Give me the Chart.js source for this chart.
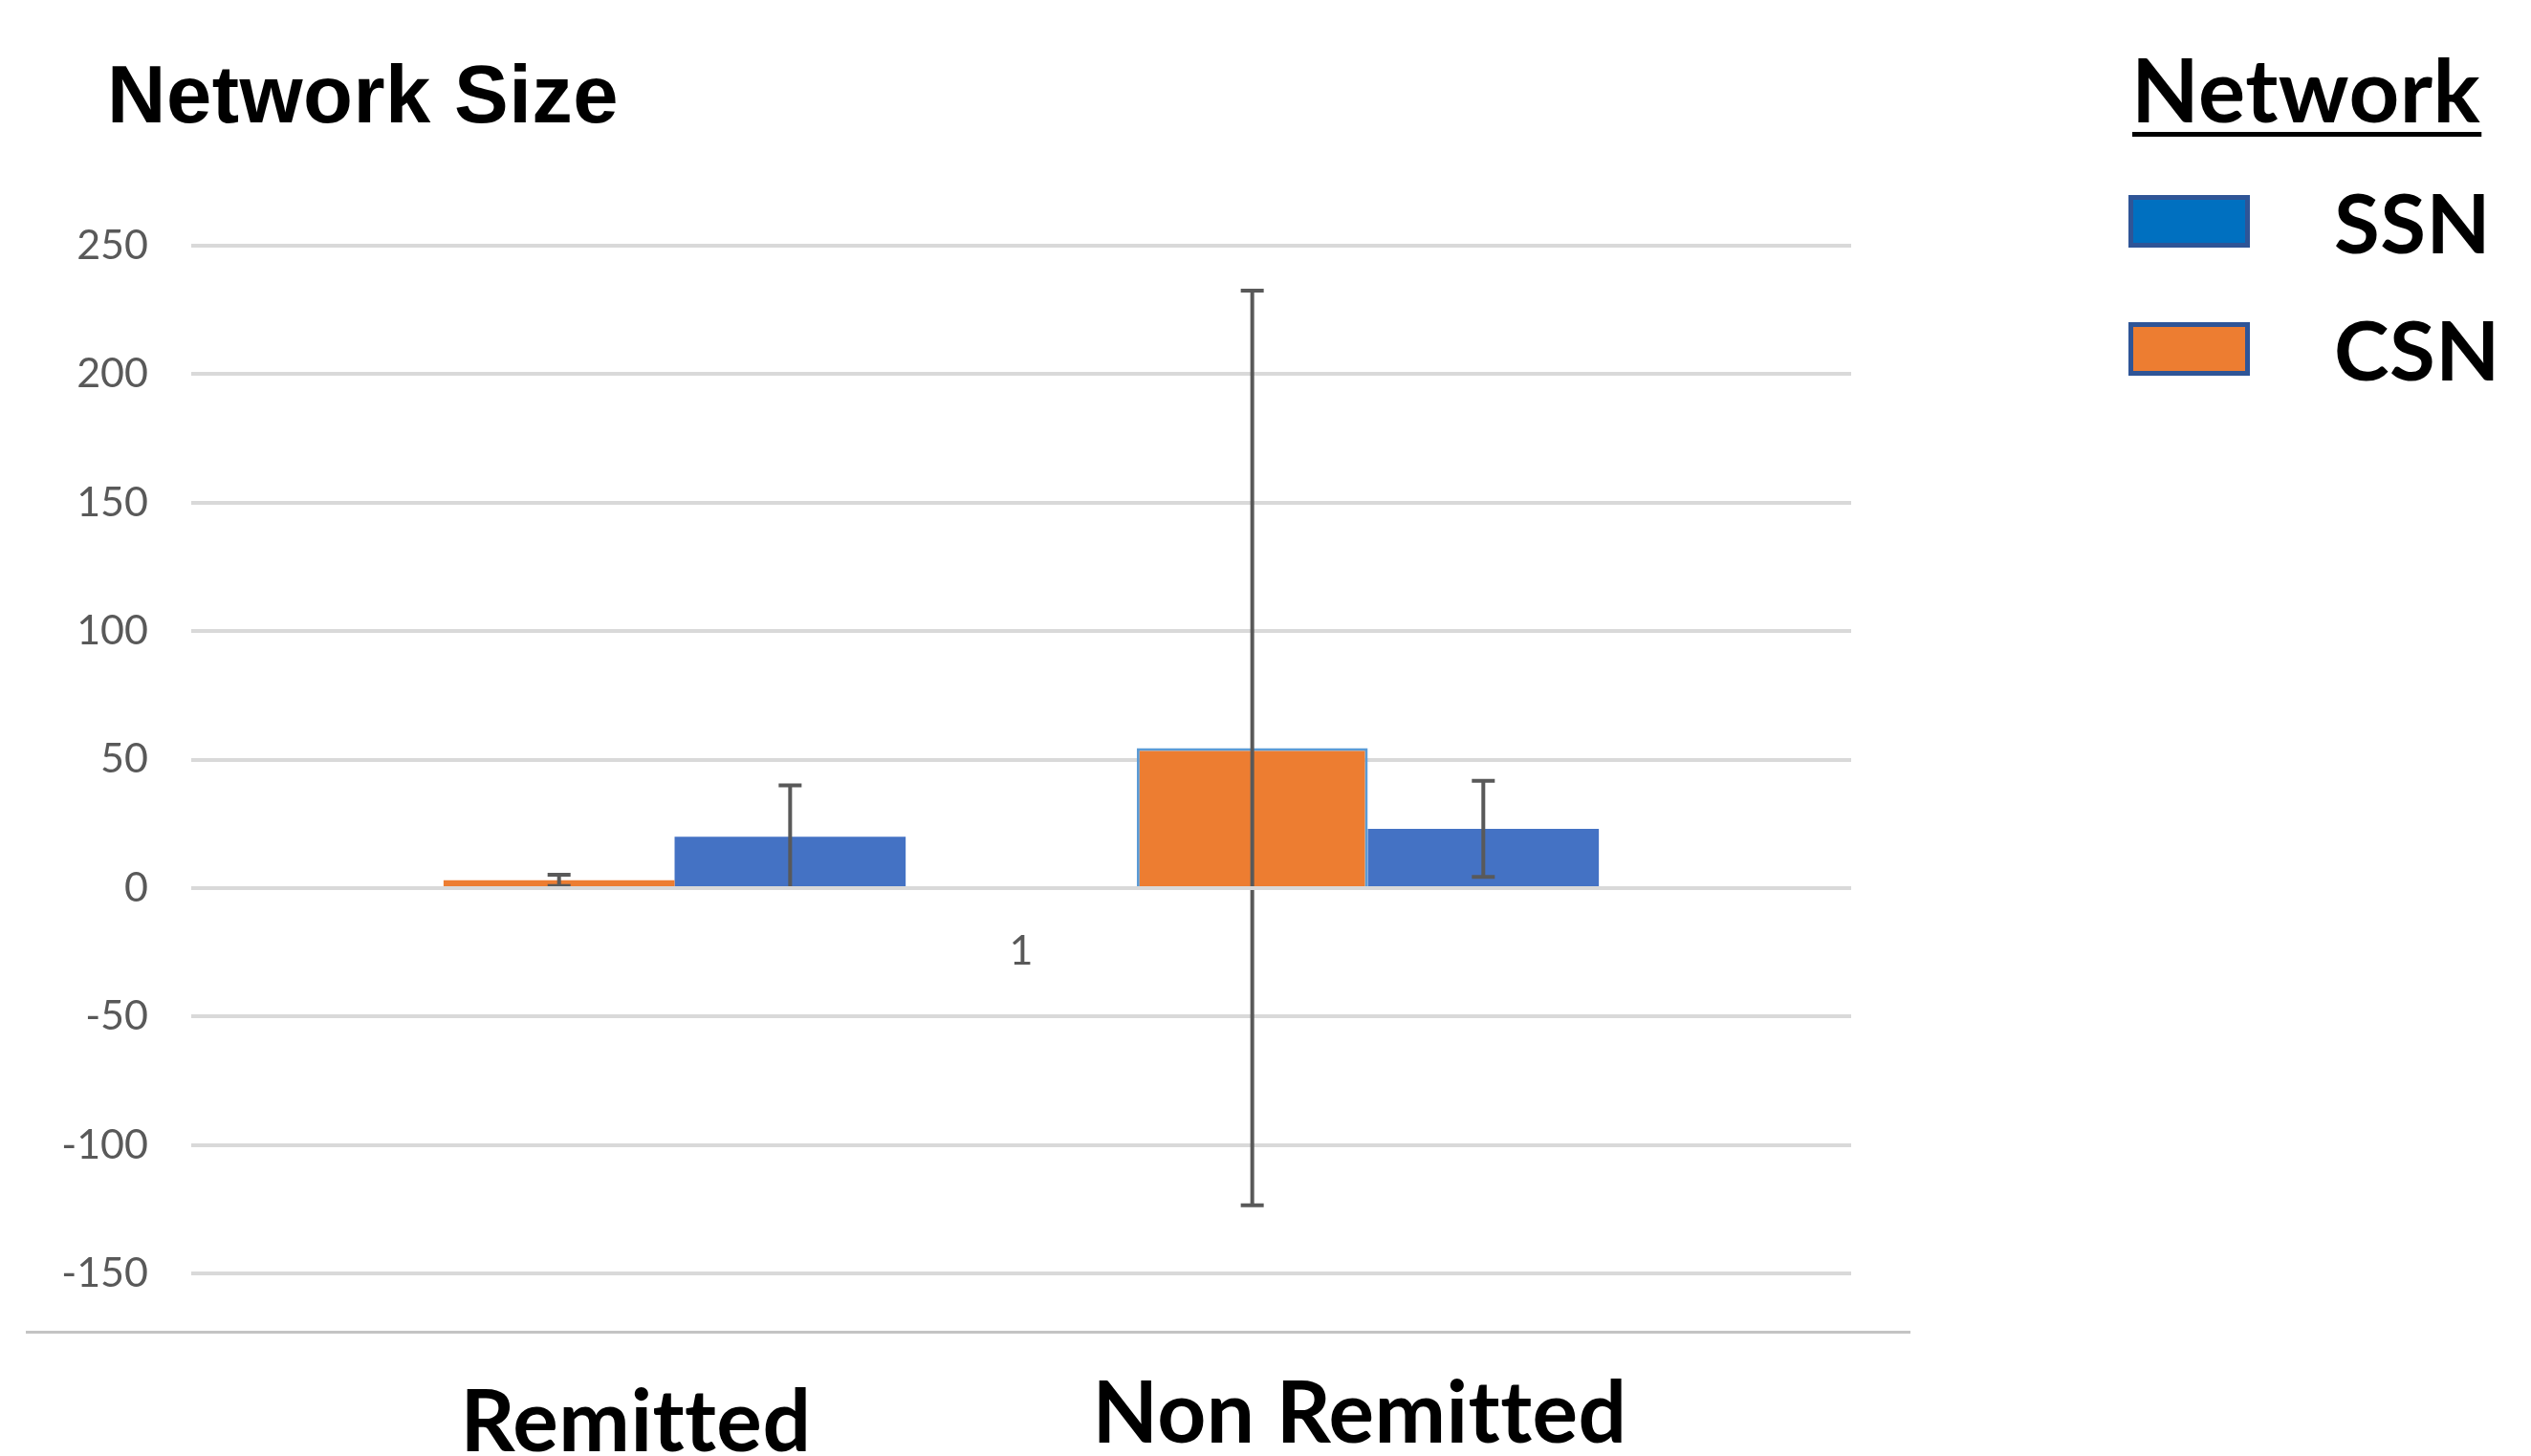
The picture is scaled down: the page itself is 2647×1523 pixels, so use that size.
<!DOCTYPE html>
<html lang="en">
<head>
  <meta charset="UTF-8">
  <title>Network Size</title>
  <script src="https://cdn.jsdelivr.net/npm/chart.js"></script>
  <style>
    html, body { margin: 0; padding: 0; background: #fff; }
    #wrap { position: absolute; left: 0; top: 0; width: 2647px; height: 1523px; }
  </style>
</head>
<body>
  <div id="wrap">
    <canvas id="networkChart" width="2647" height="1523"></canvas>
  </div>

  <script>
    // data
    const groups = ['Remitted', 'Non Remitted'];
    const categoryLabels = ['1'];
    const csnMeans = [3, 54.5];
    const csnErrors = [2.2, 178];
    const ssnMeans = [20, 23];
    const ssnErrors = [20, 18.7];
    const yMin = -150;
    const yMax = 250;
    const yStep = 50;

    const ORANGE = '#ED7D31';
    const BLUE = '#4472C4';
    const GRID = '#D9D9D9';
    const ERR = '#595959';

    // one bar per dataset, with an empty slot between the two groups
    const datasets = [];
    groups.forEach((g, i) => {
      if (i > 0) datasets.push({ label: '', data: [null], errors: [0] });
      datasets.push({
        label: g + ' CSN',
        data: [csnMeans[i]],
        errors: [csnErrors[i]],
        backgroundColor: ORANGE,
        borderColor: '#5B9BD5',
        borderWidth: i === 1 ? 3 : 0
      });
      datasets.push({
        label: g + ' SSN',
        data: [ssnMeans[i]],
        errors: [ssnErrors[i]],
        backgroundColor: BLUE,
        borderWidth: 0
      });
    });

    // error bars, then the horizontal axis line on top of them
    const errorBars = {
      id: 'errorBars',
      afterDatasetsDraw(chart) {
        const ctx = chart.ctx;
        const y = chart.scales.y;
        ctx.save();
        ctx.strokeStyle = ERR;
        chart.data.datasets.forEach((ds, di) => {
          const meta = chart.getDatasetMeta(di);
          meta.data.forEach((bar, j) => {
            const v = ds.data[j];
            const e = ds.errors ? ds.errors[j] : 0;
            if (v == null || !e) return;
            const top = y.getPixelForValue(v + e);
            const bot = y.getPixelForValue(v - e);
            ctx.lineWidth = 4;
            ctx.beginPath();
            ctx.moveTo(bar.x, top);
            ctx.lineTo(bar.x, bot);
            ctx.moveTo(bar.x - 12, top);
            ctx.lineTo(bar.x + 12, top);
            ctx.moveTo(bar.x - 12, bot);
            ctx.lineTo(bar.x + 12, bot);
            ctx.stroke();
          });
        });
        const y0 = y.getPixelForValue(0);
        ctx.strokeStyle = GRID;
        ctx.lineWidth = 4;
        ctx.beginPath();
        ctx.moveTo(chart.chartArea.left, y0);
        ctx.lineTo(chart.chartArea.right, y0);
        ctx.stroke();
        ctx.restore();
      }
    };

    // title, legend block and group names, as in the slide
    const overlay = {
      id: 'overlay',
      afterDraw(chart) {
        const ctx = chart.ctx;
        ctx.save();
        ctx.fillStyle = '#000';
        ctx.textBaseline = 'alphabetic';
        ctx.letterSpacing = '0.5px'; // keeps "tt" from turning into a ligature

        ctx.textAlign = 'left';
        ctx.font = 'bold 85px "Liberation Sans", Arial, sans-serif';
        ctx.fillText('Network Size', 112, 128);

        ctx.font = 'bold 92px Lato, sans-serif';
        ctx.fillText('Network', 2229, 128);
        const w = ctx.measureText('Network').width;
        ctx.fillRect(2230, 138, w, 5);

        ctx.font = 'bold 87px Lato, sans-serif';
        ctx.fillText('SSN', 2441, 265);
        ctx.fillText('CSN', 2441, 398);

        ctx.lineWidth = 5;
        ctx.strokeStyle = '#2F5597';
        ctx.fillStyle = '#0070C0';
        ctx.fillRect(2226, 204, 127, 55);
        ctx.strokeRect(2228.5, 206.5, 122, 50);
        ctx.fillStyle = ORANGE;
        ctx.fillRect(2226, 337, 127, 56);
        ctx.strokeRect(2228.5, 339.5, 122, 51);

        ctx.fillStyle = '#000';
        ctx.textAlign = 'center';
        ctx.font = 'bold 89px Lato, sans-serif';
        ctx.fillText(groups[0], 665, 1518);
        ctx.fillText(groups[1], 1422, 1509);

        // bottom edge of the chart box
        ctx.fillStyle = '#C4C4C4';
        ctx.fillRect(27, 1392, 1971, 3);
        ctx.restore();
      }
    };

    const ctx = document.getElementById('networkChart').getContext('2d');
    new Chart(ctx, {
      type: 'bar',
      data: { labels: categoryLabels, datasets: datasets },
      options: {
        responsive: false,
        animation: false,
        devicePixelRatio: 1,
        layout: { padding: { left: 0, right: 711, top: 257, bottom: 191 } },
        datasets: { bar: { categoryPercentage: 0.696, barPercentage: 1.0 } },
        plugins: { legend: { display: false }, tooltip: { enabled: false }, title: { display: false } },
        scales: {
          x: {
            position: { y: 0 },
            grid: { display: false, drawTicks: false },
            border: { display: false },
            ticks: { color: '#595959', font: { family: 'Lato', size: 43 }, padding: 40 }
          },
          y: {
            min: yMin,
            max: yMax,
            grid: { color: GRID, lineWidth: 4, drawTicks: false },
            border: { display: false },
            ticks: { stepSize: yStep, color: '#595959', font: { family: 'Lato', size: 43 }, padding: 45 },
            afterFit(scale) { scale.width = 200; }
          }
        }
      },
      plugins: [errorBars, overlay]
    });
  </script>
</body>
</html>
